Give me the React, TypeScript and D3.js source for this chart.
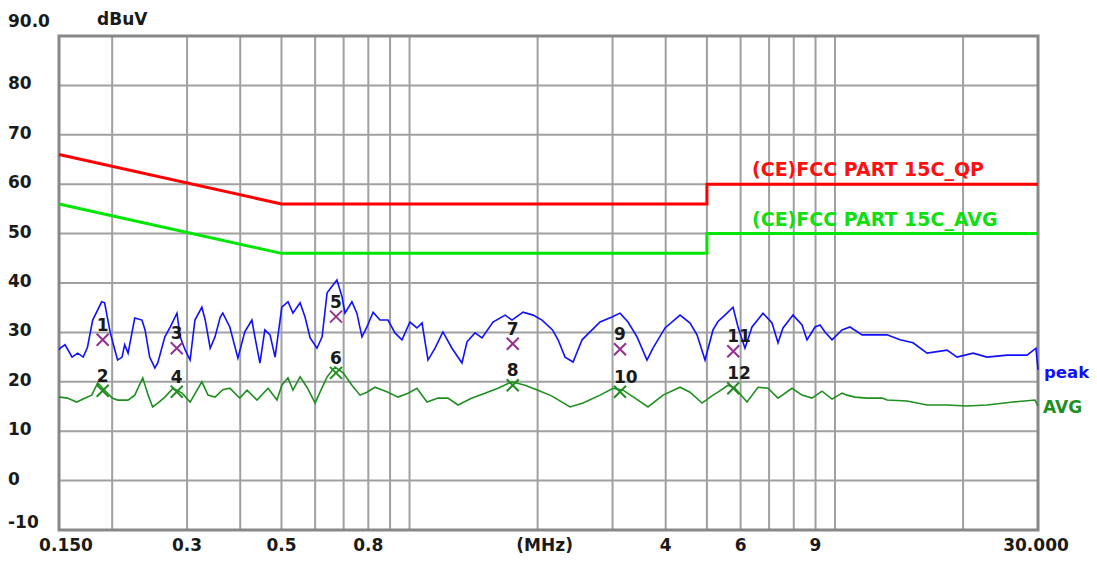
import React from "react";
import * as d3 from "d3";

// ---- data ----
const peakFreq = [0.15, 0.151, 0.155, 0.161, 0.166, 0.171, 0.175, 0.18, 0.189, 0.192, 0.198, 0.203, 0.206, 0.211, 0.214, 0.218, 0.226, 0.235, 0.239, 0.245, 0.252, 0.256, 0.266, 0.274, 0.284, 0.289, 0.297, 0.305, 0.313, 0.325, 0.331, 0.34, 0.349, 0.359, 0.364, 0.378, 0.395, 0.41, 0.426, 0.433, 0.445, 0.457, 0.47, 0.483, 0.501, 0.518, 0.532, 0.553, 0.568, 0.584, 0.606, 0.623, 0.64, 0.675, 0.694, 0.705, 0.732, 0.752, 0.773, 0.794, 0.821, 0.852, 0.89, 0.924, 0.96, 1.002, 1.041, 1.07, 1.105, 1.148, 1.198, 1.258, 1.328, 1.365, 1.425, 1.48, 1.571, 1.677, 1.741, 1.848, 1.951, 2.048, 2.168, 2.234, 2.32, 2.423, 2.544, 2.656, 2.804, 2.991, 3.124, 3.262, 3.425, 3.615, 3.734, 3.986, 4.323, 4.563, 4.739, 4.949, 5.167, 5.309, 5.574, 5.758, 5.916, 6.144, 6.382, 6.772, 7.111, 7.346, 7.547, 7.967, 8.365, 8.594, 8.975, 9.221, 9.474, 9.84, 10.387, 10.847, 11.574, 11.892, 12.419, 13.252, 14.218, 15.252, 16.458, 18.339, 19.359, 21.108, 22.766, 25.374, 28.275, 29.673, 30.0];
const peakVal = [26.5, 26.8, 27.5, 25.0, 25.8, 25.0, 27.0, 32.5, 36.2, 36.0, 29.9, 26.4, 24.4, 25.0, 27.5, 25.8, 32.9, 32.5, 30.5, 25.0, 22.8, 23.8, 29.1, 31.1, 33.9, 29.1, 26.4, 24.4, 32.5, 35.1, 32.5, 26.8, 29.1, 33.1, 33.9, 31.1, 24.8, 30.1, 32.5, 29.1, 23.8, 30.5, 29.5, 25.0, 35.1, 36.2, 33.9, 36.0, 33.1, 28.9, 26.8, 29.1, 38.0, 40.6, 37.2, 33.9, 36.2, 33.9, 29.1, 31.1, 34.1, 32.5, 32.5, 29.9, 28.5, 32.1, 30.9, 31.9, 24.4, 26.8, 30.1, 26.8, 23.8, 28.1, 29.9, 28.9, 32.1, 33.5, 32.5, 34.1, 33.5, 32.5, 30.5, 28.5, 25.0, 24.0, 28.5, 30.1, 32.1, 33.1, 33.9, 32.1, 29.1, 24.4, 26.8, 30.9, 33.5, 31.9, 29.5, 24.4, 30.5, 32.2, 33.9, 35.1, 31.1, 26.8, 31.1, 33.9, 31.9, 27.9, 30.9, 33.5, 31.5, 28.5, 31.1, 31.5, 30.1, 28.5, 30.5, 31.1, 29.5, 29.5, 29.5, 29.5, 28.5, 27.9, 25.8, 26.4, 25.0, 25.8, 25.0, 25.4, 25.4, 26.8, 22.4];

const avgFreq = [0.15, 0.151, 0.157, 0.165, 0.173, 0.179, 0.185, 0.192, 0.2, 0.206, 0.218, 0.226, 0.236, 0.243, 0.249, 0.256, 0.266, 0.278, 0.292, 0.305, 0.325, 0.336, 0.349, 0.364, 0.378, 0.399, 0.415, 0.438, 0.465, 0.488, 0.501, 0.518, 0.532, 0.553, 0.574, 0.6, 0.616, 0.64, 0.668, 0.698, 0.732, 0.765, 0.794, 0.829, 0.866, 0.89, 0.939, 0.992, 1.041, 1.099, 1.167, 1.231, 1.3, 1.402, 1.504, 1.614, 1.741, 1.868, 2.004, 2.162, 2.383, 2.557, 2.804, 3.008, 3.175, 3.388, 3.635, 3.943, 4.323, 4.563, 4.869, 5.167, 5.309, 5.604, 5.82, 6.211, 6.594, 6.958, 7.346, 7.924, 8.365, 8.83, 9.321, 9.84, 10.387, 10.672, 11.144, 11.892, 12.9, 13.252, 14.765, 16.458, 18.339, 20.433, 22.766, 26.211, 29.513, 30.0];
const avgVal = [16.8, 16.9, 16.7, 15.9, 16.7, 17.3, 19.8, 18.3, 16.7, 16.3, 16.3, 17.3, 20.8, 17.3, 14.9, 15.7, 16.9, 18.7, 17.7, 15.9, 20.0, 17.3, 16.9, 18.4, 18.7, 16.7, 18.3, 16.3, 18.7, 16.3, 19.3, 20.8, 18.3, 21.0, 18.9, 15.7, 17.9, 21.0, 23.0, 21.8, 19.3, 17.3, 17.9, 18.9, 18.3, 17.9, 16.9, 17.7, 18.7, 15.9, 16.7, 16.7, 15.3, 16.7, 17.7, 18.7, 20.0, 19.3, 18.3, 17.1, 14.9, 15.7, 17.3, 18.7, 18.3, 16.7, 14.9, 17.3, 18.9, 17.9, 15.7, 17.3, 17.9, 19.3, 18.7, 15.9, 18.9, 18.7, 16.7, 18.7, 17.3, 16.7, 18.1, 16.5, 17.7, 17.3, 16.9, 16.7, 16.7, 16.3, 16.1, 15.3, 15.3, 15.1, 15.3, 15.9, 16.3, 15.1];

const qpLimitFreq = [0.15, 0.5, 0.5, 5, 5, 30];
const qpLimitVal = [66, 56, 56, 56, 60, 60];
const avLimitFreq = [0.15, 0.5, 0.5, 5, 5, 30];
const avLimitVal = [56, 46, 46, 46, 50, 50];

const markerLabel = ["1", "2", "3", "4", "5", "6", "7", "8", "9", "10", "11", "12"];
const markerFreq = [0.19, 0.19, 0.2837, 0.2837, 0.6717, 0.6717, 1.748, 1.748, 3.124, 3.124, 5.767, 5.767];
const markerVal = [28.5, 18.2, 26.8, 18.0, 33.2, 21.8, 27.7, 19.3, 26.6, 18.0, 26.2, 18.7];
const markerKind = ["pk", "av", "pk", "av", "pk", "av", "pk", "av", "pk", "av", "pk", "av"];

const xGridFreq = [0.2, 0.3, 0.4, 0.5, 0.6, 0.7, 0.8, 0.9, 1, 2, 3, 4, 5, 6, 7, 8, 9, 10, 20];
const xTickFreq = [0.15, 0.3, 0.5, 0.8, 2, 4, 6, 9, 30];
const xTickText = ["0.150", "0.3", "0.5", "0.8", "(MHz)", "4", "6", "9", "30.000"];
const yGridVal = [0, 10, 20, 30, 40, 50, 60, 70, 80];
const yTickVal = [90, 80, 70, 60, 50, 40, 30, 20, 10, 0, -10];
const yTickText = ["90.0", "80", "70", "60", "50", "40", "30", "20", "10", "0", "-10"];

const W = 1097;
const H = 562;
const L = 59, R = 1038, T = 36, B = 530;

export default function App() {
  const x = d3.scaleLog().domain([0.15, 30]).range([L, R]);
  const y = d3.scaleLinear().domain([-10, 90]).range([B, T]);
  const line = d3
    .line<[number, number]>()
    .x((d) => x(d[0]))
    .y((d) => y(d[1]));
  const zip = (a: number[], b: number[]) => a.map((v, i) => [v, b[i]] as [number, number]);
  const font = "'DejaVu Sans', sans-serif";

  const yOffset = (v: number) => (v === 90 ? -9 : v === -10 ? -2 : 4);

  return (
    <svg
      width={W}
      height={H}
      style={{ position: "fixed", left: 0, top: 0, background: "#fff" }}
    >
      <rect x={0} y={0} width={W} height={H} fill="#fff" />
      {/* grid */}
      {xGridFreq.map((f) => (
        <line key={"gx" + f} x1={x(f)} x2={x(f)} y1={T} y2={B} stroke="#a0a0a0" strokeWidth={2} />
      ))}
      {yGridVal.map((v) => (
        <line key={"gy" + v} x1={L} x2={R} y1={y(v)} y2={y(v)} stroke="#a0a0a0" strokeWidth={2} />
      ))}
      <rect x={L} y={T} width={R - L} height={B - T} fill="none" stroke="#888888" strokeWidth={3} />

      {/* limit lines */}
      <path d={line(zip(qpLimitFreq, qpLimitVal)) || ""} fill="none" stroke="#ff0000" strokeWidth={3} />
      <path d={line(zip(avLimitFreq, avLimitVal)) || ""} fill="none" stroke="#00e600" strokeWidth={3} />

      {/* traces */}
      <path d={line(zip(avgFreq, avgVal)) || ""} fill="none" stroke="#1f8f1f" strokeWidth={1.6} />
      <path d={line(zip(peakFreq, peakVal)) || ""} fill="none" stroke="#1010ff" strokeWidth={1.6} />

      {/* markers */}
      {markerFreq.map((f, i) => {
        const cx = x(f);
        const cy = y(markerVal[i]);
        const col = markerKind[i] === "pk" ? "#96308f" : "#1f8f1f";
        const s = 6;
        return (
          <g key={"m" + i}>
            <path
              d={`M${cx - s},${cy - s}L${cx + s},${cy + s}M${cx - s},${cy + s}L${cx + s},${cy - s}`}
              stroke={col}
              strokeWidth={2}
              fill="none"
            />
            <text
              x={cx - 6}
              y={cy - 9}
              fontFamily={font}
              fontWeight="bold"
              fontSize={17}
              fill="#1a1a1a"
            >
              {markerLabel[i]}
            </text>
          </g>
        );
      })}

      {/* limit labels */}
      <text x={752} y={176} fontFamily={font} fontWeight="bold" fontSize={19} fill="#ff1010">
        (CE)FCC PART 15C_QP
      </text>
      <text x={752} y={226} fontFamily={font} fontWeight="bold" fontSize={19} fill="#10e010">
        (CE)FCC PART 15C_AVG
      </text>

      {/* trace labels */}
      <text x={1044} y={378} fontFamily={font} fontWeight="bold" fontSize={16.5} fill="#1010ff">
        peak
      </text>
      <text x={1043} y={413} fontFamily={font} fontWeight="bold" fontSize={17} fill="#1f8f1f">
        AVG
      </text>

      {/* y ticks */}
      {yTickVal.map((v, i) => (
        <text
          key={"yt" + v}
          x={8}
          y={y(v) + yOffset(v)}
          fontFamily={font}
          fontWeight="bold"
          fontSize={17}
          fill="#1a1a1a"
        >
          {yTickText[i]}
        </text>
      ))}
      <text x={97} y={25} fontFamily={font} fontWeight="bold" fontSize={17} fill="#1a1a1a">
        dBuV
      </text>

      {/* x ticks */}
      {xTickFreq.map((f, i) => {
        let px = x(f);
        if (i === 0) px += 7;
        if (i === xTickFreq.length - 1) px -= 2;
        if (xTickText[i] === "(MHz)") px += 7;
        return (
          <text
            key={"xt" + f}
            x={px}
            y={551}
            textAnchor="middle"
            fontFamily={font}
            fontWeight="bold"
            fontSize={17}
            fill="#1a1a1a"
          >
            {xTickText[i]}
          </text>
        );
      })}
    </svg>
  );
}
